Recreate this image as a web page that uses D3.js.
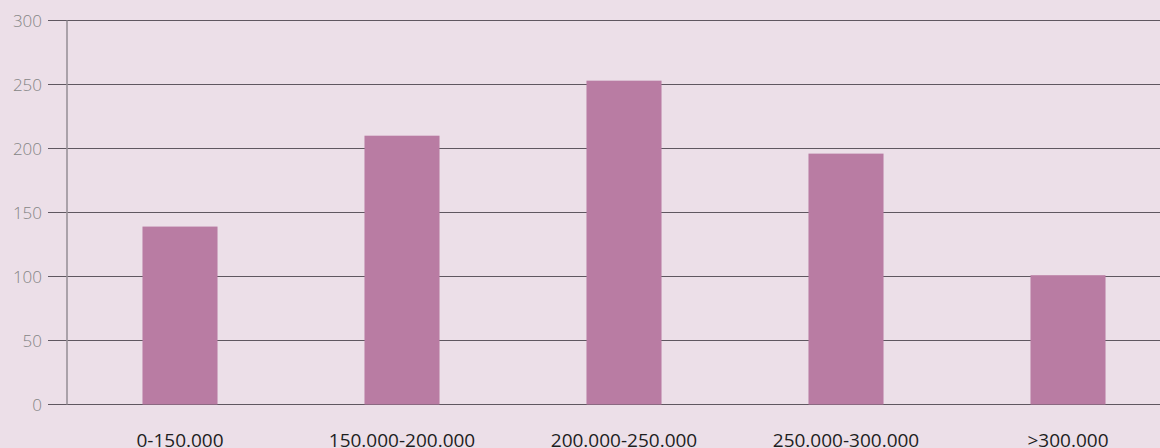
<!DOCTYPE html>
<html><head><meta charset="utf-8">
<script src="https://cdn.jsdelivr.net/npm/d3@7"></script>
<style>html,body{margin:0;padding:0;background:#ecdfe8;overflow:hidden}</style>
</head><body>
<svg id="c" width="1160" height="448"></svg>
<script>
const categories = ["0-150.000","150.000-200.000","200.000-250.000","250.000-300.000",">300.000"];
const values = [139, 210, 253, 196, 101];
const yTicks = [0, 50, 100, 150, 200, 250, 300];

const svg = d3.select("#c");
svg.append("rect").attr("width",1160).attr("height",448).attr("fill","#ecdfe8");

const y = d3.scaleLinear().domain([0,300]).range([404.5,20.5]);
const x = d3.scaleBand().domain(categories).range([69,1179]).paddingInner(0.662).paddingOuter(0.331);

// gridlines + y labels
const yAxis = d3.axisLeft(y).tickValues(yTicks).tickSize(0).tickPadding(0);
const gy = svg.append("g").attr("transform","translate(42,0)").call(yAxis);
gy.select(".domain").remove();
gy.selectAll("text").attr("font-family","'Open Sans', sans-serif").attr("font-weight",300)
  .attr("font-size",17).attr("fill","#858585").attr("dy","0.36em");

svg.append("g").selectAll("line").data(yTicks).join("line")
  .attr("x1",48).attr("x2",1160).attr("y1",d=>y(d)).attr("y2",d=>y(d))
  .attr("stroke","#5f5760").attr("stroke-width",1.2);

// vertical axis line
svg.append("line").attr("x1",67).attr("x2",67).attr("y1",y(300)).attr("y2",y(0))
  .attr("stroke","#9a9299").attr("stroke-width",1.6);

// bars
svg.append("g").selectAll("rect").data(values).join("rect")
  .attr("x",(d,i)=>x(categories[i])).attr("width",x.bandwidth())
  .attr("y",d=>y(d)).attr("height",d=>y(0)-y(d)).attr("fill","#b97ca3");

// x labels
const xAxis = d3.axisBottom(x).tickSize(0).tickPadding(0);
const gx = svg.append("g").attr("transform","translate(0,447)").call(xAxis);
gx.select(".domain").remove();
gx.selectAll("text").attr("dy",0).attr("font-family","'Open Sans', sans-serif")
  .attr("font-size",19).attr("fill","#1e1e1e");
</script>
</body></html>
